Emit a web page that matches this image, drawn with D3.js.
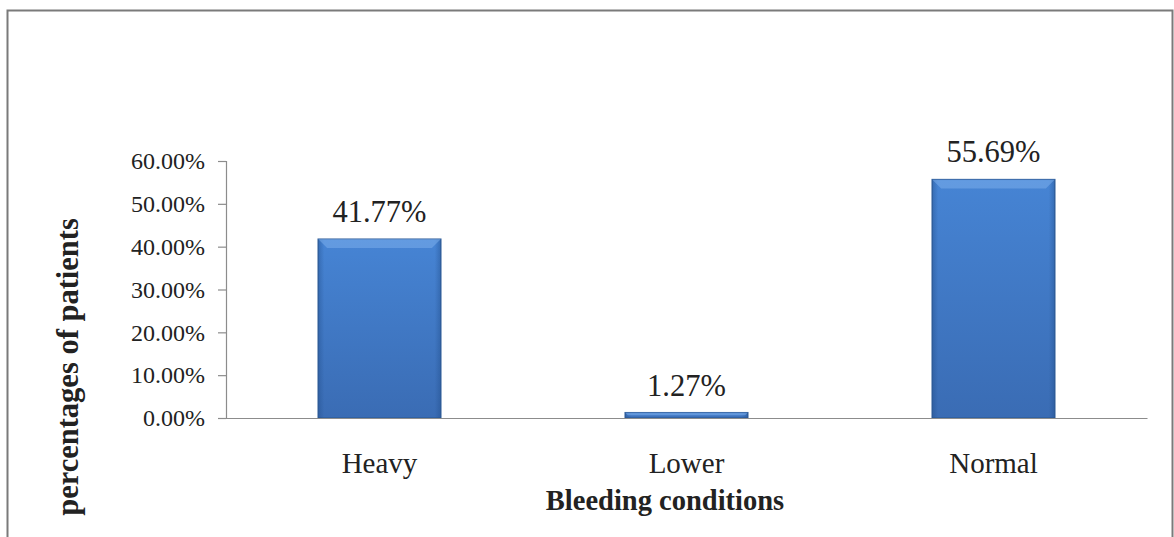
<!DOCTYPE html>
<html>
<head>
<meta charset="utf-8">
<script src="https://cdn.jsdelivr.net/npm/d3@7"></script>
<style>
  html, body { margin: 0; padding: 0; background: #fff; }
  svg { display: block; }
  text { font-family: "Liberation Serif", "Times New Roman", serif; fill: #222; }
</style>
</head>
<body>
<svg id="chart" width="1174" height="537"></svg>
<script>
const categories = ["Heavy", "Lower", "Normal"];
const values = [41.77, 1.27, 55.69];
const valueLabels = ["41.77%", "1.27%", "55.69%"];
const yTicks = [0, 10, 20, 30, 40, 50, 60];
const yTickLabels = ["0.00%", "10.00%", "20.00%", "30.00%", "40.00%", "50.00%", "60.00%"];
const xTitle = "Bleeding conditions";
const yTitle = "percentages of patients";

const SERIF = '"Liberation Serif", "Times New Roman", serif';
const svg = d3.select("#chart");
const plot = { left: 226, right: 1147, top: 161, bottom: 418 };

// outer frame
svg.append("rect")
  .attr("x", 7.5).attr("y", 10.5)
  .attr("width", 1165).attr("height", 545)
  .attr("fill", "none").attr("stroke", "#7a7a7a").attr("stroke-width", 2);

const x = d3.scaleBand().domain(categories)
  .range([plot.left, plot.right]).paddingInner(0.6).paddingOuter(0.3);
const y = d3.scaleLinear().domain([0, 60]).range([plot.bottom, plot.top]);

const defs = svg.append("defs");
const gv = defs.append("linearGradient").attr("id", "gv").attr("x1", 0).attr("y1", 0).attr("x2", 0).attr("y2", 1);
gv.append("stop").attr("offset", "0%").attr("stop-color", "#4684d4");
gv.append("stop").attr("offset", "100%").attr("stop-color", "#3a6cb4");
const gh = defs.append("linearGradient").attr("id", "gh").attr("x1", 0).attr("y1", 0).attr("x2", 1).attr("y2", 0);
gh.append("stop").attr("offset", "0%").attr("stop-color", "#1f4a85").attr("stop-opacity", 0.4);
gh.append("stop").attr("offset", "5%").attr("stop-color", "#1f4a85").attr("stop-opacity", 0);
gh.append("stop").attr("offset", "95%").attr("stop-color", "#1f4a85").attr("stop-opacity", 0);
gh.append("stop").attr("offset", "100%").attr("stop-color", "#1f4a85").attr("stop-opacity", 0.4);

// y axis
const yAxis = d3.axisLeft(y).tickValues(yTicks)
  .tickFormat((d, i) => yTickLabels[i]).tickSize(8).tickPadding(13);
const gy = svg.append("g").attr("transform", `translate(${plot.left},0)`).call(yAxis);
gy.attr("font-family", SERIF);
gy.select(".domain").attr("stroke", "#8c8c8c").attr("stroke-width", 1.2);
gy.selectAll(".tick line").attr("stroke", "#8c8c8c").attr("stroke-width", 1.2);
gy.selectAll(".tick text")
  .style("font-family", SERIF)
  .style("font-size", "24px").attr("fill", "#222");

// bars
const bars = svg.append("g");
const bw = x.bandwidth();
categories.forEach((c, i) => {
  const bx = x(c), by = y(values[i]), bh = y(0) - y(values[i]);
  bars.append("rect").attr("x", bx).attr("y", by).attr("width", bw).attr("height", bh)
    .attr("fill", "url(#gv)").attr("stroke", "#2b5a98").attr("stroke-width", 1.2);
  bars.append("rect").attr("x", bx).attr("y", by).attr("width", bw).attr("height", bh)
    .attr("fill", "url(#gh)");
  const bev = Math.min(9, bh / 2);
  bars.append("path")
    .attr("d", `M${bx},${by} L${bx + bw},${by} L${bx + bw - bev},${by + bev} L${bx + bev},${by + bev} Z`)
    .attr("fill", "#7fb2ee").attr("opacity", 0.5);
});

// x axis
const xAxis = d3.axisBottom(x).tickSize(0).tickPadding(55);
const gx = svg.append("g").attr("transform", `translate(0,${plot.bottom})`).call(xAxis);
gx.attr("font-family", SERIF);
gx.select(".domain").attr("stroke", "#8c8c8c").attr("stroke-width", 1.2);
gx.selectAll(".tick text")
  .style("font-family", SERIF)
  .style("font-size", "29px").attr("fill", "#222").attr("dy", "0");

// value labels
svg.append("g").selectAll("text").data(categories).join("text")
  .attr("x", d => x(d) + bw / 2)
  .attr("y", (d, i) => y(values[i]) - 17)
  .attr("text-anchor", "middle")
  .style("font-family", SERIF)
  .style("font-size", "30.5px")
  .text((d, i) => valueLabels[i]);

// axis titles
svg.append("text")
  .attr("x", 665).attr("y", 510)
  .attr("text-anchor", "middle")
  .style("font-family", SERIF)
  .style("font-size", "28.5px").style("font-weight", "bold").attr("fill", "#111")
  .text(xTitle);

svg.append("text")
  .attr("transform", "translate(78,367) rotate(-90)")
  .attr("text-anchor", "middle")
  .style("font-family", SERIF)
  .style("font-size", "30.5px").style("font-weight", "bold").attr("fill", "#111")
  .text(yTitle);
</script>
</body>
</html>
